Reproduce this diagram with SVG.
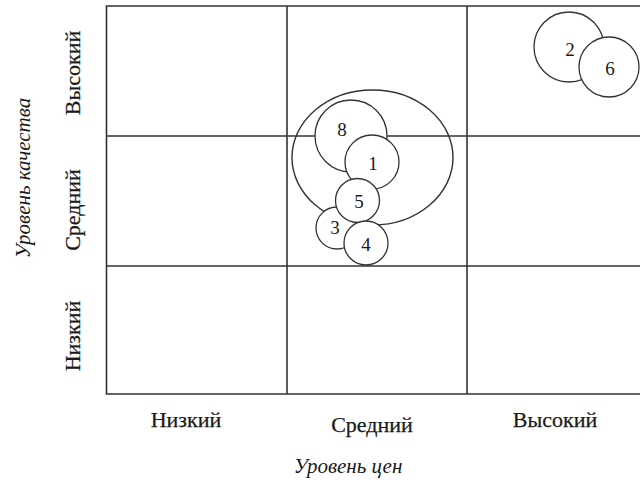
<svg xmlns="http://www.w3.org/2000/svg" width="640" height="481" viewBox="0 0 640 481">
<style>
.grid{stroke:#333;stroke-width:1.6;fill:none}
.c{stroke:#333;stroke-width:1.3;fill:#fff}
.e{stroke:#333;stroke-width:1.4;fill:none}
.n{font-family:"Liberation Serif",serif;font-size:19px;fill:#1a1a1a;text-anchor:middle;dominant-baseline:central}
.lab{font-family:"Liberation Serif",serif;font-size:22px;fill:#1a1a1a;stroke:#1a1a1a;stroke-width:0.25;text-anchor:middle}
.ax{font-family:"Liberation Serif",serif;font-size:21px;font-style:italic;fill:#1a1a1a;text-anchor:middle}
</style>
<rect width="640" height="481" fill="#fff"/>
<g id="grid">
<path class="grid" d="M642,6H106.5V394H642M287,6V394M467,6V394M106.5,136H642M106.5,266H642"/>
</g>
<g id="labels">
<text class="lab" x="186" y="427">Низкий</text>
<text class="lab" x="372" y="432">Средний</text>
<text class="lab" x="555" y="427">Высокий</text>
<text class="ax" x="348" y="473">Уровень цен</text>
<text class="lab" transform="translate(80,73) rotate(-90)">Высокий</text>
<text class="lab" transform="translate(80,210) rotate(-90)">Средний</text>
<text class="lab" transform="translate(80,336) rotate(-90)">Низкий</text>
<text class="ax" transform="translate(30,178) rotate(-90)">Уровень качества</text>
</g>
<g id="group-ellipse"><ellipse class="e" cx="372.5" cy="157.5" rx="80.5" ry="67.5"/></g>
<g id="node-8"><circle class="c" cx="351" cy="136" r="36"/><text class="n" x="342" y="129">8</text></g>
<g id="node-3"><circle class="c" cx="337" cy="228" r="21"/><text class="n" x="335" y="227">3</text></g>
<g id="node-1"><circle class="c" cx="372" cy="162" r="27"/><text class="n" x="373" y="163">1</text></g>
<g id="node-5"><circle class="c" cx="357.5" cy="200.5" r="22"/><text class="n" x="359" y="201">5</text></g>
<g id="node-4"><circle class="c" cx="366" cy="243" r="22"/><text class="n" x="366" y="244">4</text></g>
<g id="node-2"><circle class="c" cx="569" cy="47" r="35"/><text class="n" x="570" y="49">2</text></g>
<g id="node-6"><circle class="c" cx="609" cy="67" r="30"/><text class="n" x="610" y="68">6</text></g>
<g id="connectors"/>
</svg>
